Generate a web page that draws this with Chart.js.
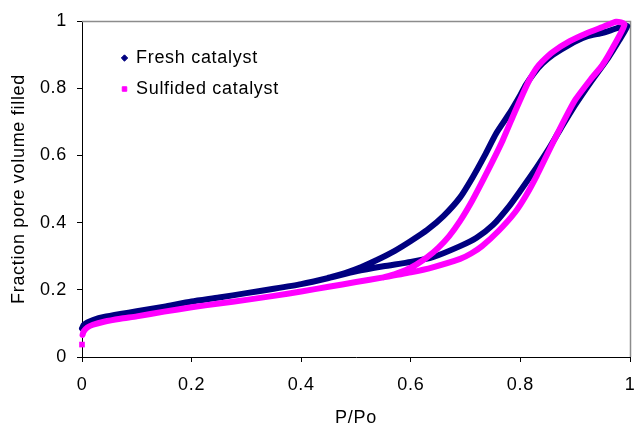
<!DOCTYPE html>
<html><head><meta charset="utf-8">
<script src="https://cdn.jsdelivr.net/npm/chart.js@4"></script>
<style>html,body{margin:0;padding:0;background:#fff}canvas{display:block}</style>
</head><body>
<canvas id="c" width="634" height="427"></canvas>
<script>
const xTickLabels = ['0','0.2','0.4','0.6','0.8','1'];
const yTickLabels = ['0','0.2','0.4','0.6','0.8','1'];
const seriesNames = ['Fresh catalyst','Sulfided catalyst'];
const seriesColors = ['#000080','#FF00FF'];

// Fresh catalyst: adsorption (lower) branch, then desorption (upper) branch
const freshAdsX = [0, 0.003, 0.01, 0.02, 0.04, 0.07, 0.1, 0.15, 0.2, 0.25, 0.3, 0.35, 0.4, 0.45, 0.5, 0.55, 0.6, 0.64, 0.69, 0.72, 0.75, 0.78, 0.8, 0.83, 0.85, 0.87, 0.9, 0.93, 0.96, 0.98, 0.995];
const freshAdsY = [0.085, 0.095, 0.103, 0.11, 0.119, 0.128, 0.136, 0.15, 0.165, 0.177, 0.19, 0.203, 0.217, 0.235, 0.255, 0.27, 0.283, 0.297, 0.33, 0.355, 0.393, 0.45, 0.495, 0.565, 0.615, 0.67, 0.75, 0.822, 0.89, 0.942, 0.985];
const freshDesX = [0.98, 0.95, 0.92, 0.89, 0.86, 0.84, 0.825, 0.81, 0.8, 0.78, 0.756, 0.735, 0.713, 0.69, 0.66, 0.63, 0.6, 0.57, 0.54, 0.51, 0.48, 0.45];
const freshDesY = [0.98, 0.965, 0.953, 0.93, 0.9, 0.873, 0.845, 0.81, 0.78, 0.725, 0.666, 0.6, 0.535, 0.475, 0.42, 0.378, 0.345, 0.315, 0.29, 0.268, 0.25, 0.236];

// Sulfided catalyst
const sulfAdsX = [0, 0.0005, 0.001, 0.003, 0.01, 0.02, 0.04, 0.07, 0.1, 0.15, 0.2, 0.25, 0.3, 0.35, 0.4, 0.45, 0.5, 0.55, 0.6, 0.64, 0.69, 0.71, 0.73, 0.76, 0.79, 0.81, 0.83, 0.86, 0.88, 0.9, 0.93, 0.95, 0.97, 0.99];
const sulfAdsY = [0.037, null, 0.066, 0.076, 0.088, 0.096, 0.105, 0.114, 0.121, 0.135, 0.148, 0.159, 0.17, 0.182, 0.195, 0.209, 0.223, 0.237, 0.252, 0.267, 0.292, 0.308, 0.33, 0.375, 0.43, 0.48, 0.54, 0.64, 0.705, 0.765, 0.83, 0.87, 0.925, 0.99];
const sulfDesX = [0.975, 0.95, 0.92, 0.89, 0.86, 0.84, 0.829, 0.815, 0.805, 0.79, 0.768, 0.75, 0.732, 0.712, 0.69, 0.67, 0.65, 0.63, 0.61, 0.59, 0.57, 0.55];
const sulfDesY = [0.998, 0.982, 0.963, 0.94, 0.909, 0.88, 0.859, 0.82, 0.785, 0.73, 0.646, 0.585, 0.527, 0.465, 0.405, 0.36, 0.325, 0.297, 0.275, 0.258, 0.246, 0.237];

function zip(xs, ys) { return xs.map((x, i) => ({x: x, y: ys[i]})); }

const freshData = zip(freshAdsX, freshAdsY).concat(zip(freshDesX, freshDesY));
const sulfData = zip(sulfAdsX, sulfAdsY).concat(zip(sulfDesX, sulfDesY));

const FONT = 'Liberation Sans, Arial, sans-serif';

const textSpacing = {
  id: 'textSpacing',
  beforeUpdate(chart) { chart.ctx.letterSpacing = '0.7px'; },
  beforeLayout(chart) { chart.ctx.letterSpacing = '0.7px'; },
  beforeDraw(chart) { chart.ctx.letterSpacing = '0.7px'; }
};

const plotBorder = {
  id: 'plotBorder',
  beforeDatasetsDraw(chart) {
    const {ctx, chartArea: a} = chart;
    ctx.save();
    ctx.strokeStyle = '#8c8c8c';
    ctx.lineWidth = 1.5;
    ctx.beginPath();
    ctx.moveTo(a.left, a.top + 0.5);
    ctx.lineTo(a.right + 0.5, a.top + 0.5);
    ctx.lineTo(a.right + 0.5, a.bottom);
    ctx.stroke();
    ctx.restore();
  }
};

const legendPlace = {
  id: 'legendPlace',
  afterLayout(chart) {
    const l = chart.legend;
    if (!l) return;
    const w = Math.max(l.width, 250), h = l.height;
    l.width = w;
    l.left = 109; l.top = 36; l.right = l.left + w; l.bottom = l.top + h;
  }
};

new Chart(document.getElementById('c'), {
  type: 'scatter',
  data: {
    datasets: [
      {
        label: seriesNames[0], data: freshData, showLine: true,
        borderColor: seriesColors[0], backgroundColor: seriesColors[0],
        borderWidth: 6, tension: 0.2, pointRadius: 0, pointHoverRadius: 0,
        pointStyle: 'rectRot', borderJoinStyle: 'round', borderCapStyle: 'round',
        clip: false, order: 2
      },
      {
        label: seriesNames[1], data: sulfData, showLine: true, spanGaps: false,
        borderColor: seriesColors[1], backgroundColor: seriesColors[1],
        borderWidth: 6, tension: 0.2,
        pointRadius: (c) => (c.dataIndex === 0 ? 4 : 0), pointHoverRadius: 0,
        pointBorderWidth: 0, pointBackgroundColor: seriesColors[1],
        pointStyle: 'rect', borderJoinStyle: 'round', borderCapStyle: 'round',
        clip: false, order: 1
      }
    ]
  },
  options: {
    responsive: false, animation: false, devicePixelRatio: 1,
    layout: {padding: {left: 0, top: 21, right: 4, bottom: 0}},
    plugins: {
      tooltip: {enabled: false},
      legend: {
        position: 'chartArea', align: 'start',
        labels: {
          usePointStyle: true, boxWidth: 5, boxHeight: 4.5, padding: 13,
          color: '#000', font: {family: FONT, size: 18},
          sort: (a, b) => a.datasetIndex - b.datasetIndex,
          generateLabels(chart) {
            const items = Chart.defaults.plugins.legend.labels.generateLabels(chart);
            return items.map(it => Object.assign(it, {
              lineWidth: 1,
              fillStyle: seriesColors[it.datasetIndex],
              strokeStyle: seriesColors[it.datasetIndex]
            }));
          }
        }
      }
    },
    scales: {
      x: {
        type: 'linear', min: 0, max: 1,
        afterFit(s) { s.height = 70; s.paddingRight = 0; s.paddingLeft = 0; },
        ticks: {stepSize: 0.2, padding: 12, color: '#000', font: {family: FONT, size: 18},
          maxRotation: 0, callback: (v, i) => xTickLabels[i]},
        grid: {display: true, drawOnChartArea: false, drawTicks: true, tickLength: 5, color: '#000'},
        border: {display: true, color: '#000', width: 1},
        title: {display: true, text: 'P/Po', color: '#000', font: {family: FONT, size: 18, lineHeight: 1}, padding: {top: 0, bottom: 0}}
      },
      y: {
        type: 'linear', min: 0, max: 1,
        afterFit(s) { s.width = 82; s.paddingTop = 0; s.paddingBottom = 0; },
        ticks: {stepSize: 0.2, padding: 10, color: '#000', font: {family: FONT, size: 18},
          callback: (v, i) => yTickLabels[i]},
        grid: {display: true, drawOnChartArea: false, drawTicks: true, tickLength: 5, color: '#000'},
        border: {display: true, color: '#000', width: 1},
        title: {display: true, text: 'Fraction pore volume filled', color: '#000', font: {family: FONT, size: 18, lineHeight: 1}, padding: {top: 10, bottom: 0}}
      }
    }
  },
  plugins: [textSpacing, plotBorder, legendPlace]
});
</script>
</body></html>
